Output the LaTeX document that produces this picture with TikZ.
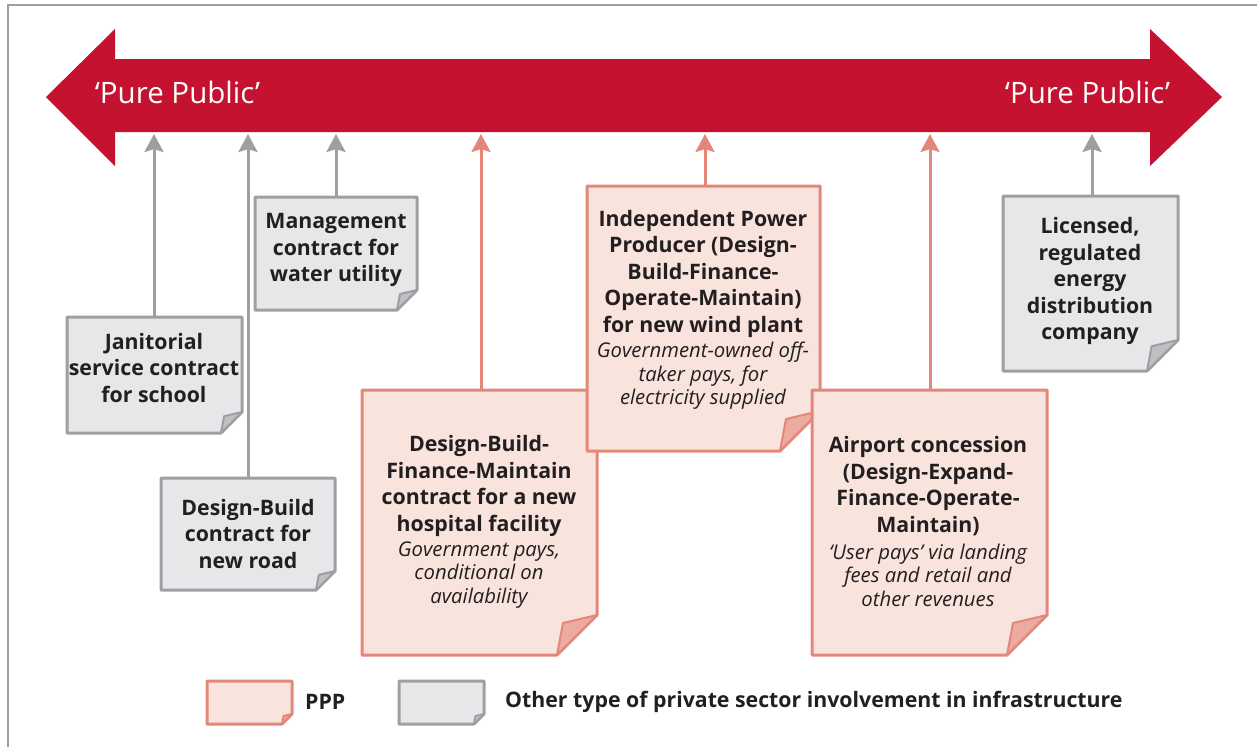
\documentclass[tikz,border=0pt]{standalone}
\usepackage{fontspec}
\setmainfont{Open Sans}
\usetikzlibrary{arrows.meta}
\definecolor{pubred}{RGB}{196,18,48}
\definecolor{grayline}{RGB}{157,159,162}
\definecolor{grayfill}{RGB}{230,231,232}
\definecolor{grayfoldc}{RGB}{190,192,194}
\definecolor{pinkline}{RGB}{226,135,122}
\definecolor{pinkfill}{RGB}{249,227,221}
\definecolor{pinkfoldc}{RGB}{237,170,158}
\definecolor{txt}{RGB}{35,31,32}
\tikzset{
  graybox/.style={draw=grayline, fill=grayfill, line width=3pt, line join=round},
  grayfold/.style={draw=grayline, fill=grayfoldc, line width=2pt, line join=round},
  pinkbox/.style={draw=pinkline, fill=pinkfill, line width=3pt, line join=round},
  pinkfold/.style={draw=pinkline, fill=pinkfoldc, line width=2pt, line join=round},
  grayarrow/.style={draw=grayline, line width=3pt, -{Stealth[width=19pt,length=18pt,inset=3pt]}},
  pinkarrow/.style={draw=pinkline, line width=3pt, -{Stealth[width=19pt,length=18pt,inset=3pt]}},
  btext/.style={align=center, text=txt, font=\fontsize{21.3}{26.5}\selectfont\bfseries, inner sep=0pt},
  itext/.style={align=center, text=txt, font=\fontsize{20.3}{23.5}\selectfont\itshape, inner sep=0pt},
  titletext/.style={text=white, font=\fontsize{29.5}{32}\selectfont, inner sep=0pt},
  legtext/.style={text=txt, font=\fontsize{21.3}{24}\selectfont\bfseries, inner sep=0pt, anchor=west}
}
\newcommand\notebox[6]{%
  \draw[#1box] (#2,#3) -- (#4,#3) -- (#4,#5-#6) -- (#4-#6,#5) -- (#2,#5) -- cycle;
  \draw[#1fold] (#4,#5-#6) -- (#4-0.85*#6,#5-0.8*#6) -- (#4-#6,#5) -- cycle;
}
\begin{document}
\begin{tikzpicture}[x=1pt,y=-1pt]
\useasboundingbox (0,0) rectangle (1257,747);
% frame
\draw[grayline, line width=2pt] (8,747) -- (8,5) -- (1257,5);
% big double arrow
\fill[pubred] (46,97) -- (115,29) -- (115,59) -- (1150,59) -- (1150,29) -- (1222,97)
  -- (1150,166) -- (1150,132) -- (115,132) -- (115,166) -- cycle;
\node[titletext, anchor=base] (pl) at (177.5,103) {‘Pure Public’};
\node[titletext, anchor=base] (pr) at (1087.5,103) {‘Pure Public’};
\coordinate (shaftb) at (600,134);
% anchor coordinates at box tops
\coordinate (jan) at (154,317);
\coordinate (road) at (248,478);
\coordinate (mgmt) at (336,197);
\coordinate (hosp) at (481,390);
\coordinate (ipp) at (705,186);
\coordinate (air) at (930,390);
\coordinate (lic) at (1092,196);
% connectors
\draw[grayarrow] (jan) -- (jan |- shaftb);
\draw[grayarrow] (road) -- (road |- shaftb);
\draw[grayarrow] (mgmt) -- (mgmt |- shaftb);
\draw[pinkarrow] (hosp) -- (hosp |- shaftb);
\draw[pinkarrow] (ipp) -- (ipp |- shaftb);
\draw[pinkarrow] (air) -- (air |- shaftb);
\draw[grayarrow] (lic) -- (lic |- shaftb);
% gray boxes
\notebox{gray}{67}{317}{242}{433}{21}
\node[btext] (jant) at (154,368) {Janitorial\\service contract\\for school};
\notebox{gray}{161}{478}{335}{590}{19}
\node[btext] (roadt) at (248,534) {Design-Build\\contract for\\new road};
\notebox{gray}{255}{197}{417}{310}{20}
\node[btext] (mgmtt) at (336,250) {Management\\contract for\\water utility};
\notebox{gray}{1003}{196}{1178}{371}{31}
\node[btext] (lict) at (1090,281) {Licensed,\\regulated\\energy\\distribution\\company};
% pink boxes
\notebox{pink}{362}{390}{597}{655}{40}
\node[btext] (hospt) at (479,486) {Design-Build-\\Finance-Maintain\\contract for a new\\hospital facility};
\node[itext] (hospi) at (479,575) {Government pays,\\conditional on\\availability};
\notebox{pink}{587}{186}{820}{451}{40}
\node[btext] (ippt) at (703,273.5) {Independent Power\\Producer (Design-\\Build-Finance-\\Operate-Maintain)\\for new wind plant};
\node[itext] (ippi) at (703,376) {Government-owned off-\\taker pays, for\\electricity supplied};
\notebox{pink}{812}{390}{1047}{655}{40}
\node[btext] (airt) at (928,486) {Airport concession\\(Design-Expand-\\Finance-Operate-\\Maintain)};
\node[itext] (airi) at (928,575) {‘User pays’ via landing\\fees and retail and\\other revenues};
% legend
\notebox{pink}{207}{681}{292}{724}{10}
\node[legtext] (lp) at (305,702) {PPP};
\notebox{gray}{399}{681}{484}{724}{10}
\node[legtext] (lg) at (505,702) {Other type of private sector involvement in infrastructure};
\end{tikzpicture}
\end{document}
